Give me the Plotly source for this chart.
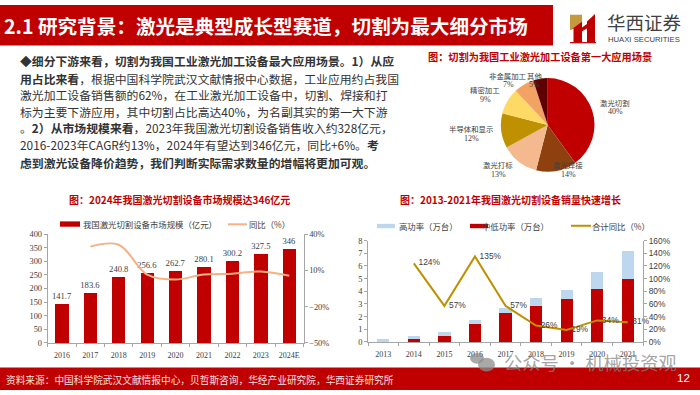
import plotly.graph_objects as go

RED = "#C00000"
CJK = "Noto Sans CJK SC"
SERIF = "Liberation Serif, Noto Sans CJK SC"
SANS = "Liberation Sans, Noto Sans CJK SC"

# ---- data ----
pie_labels = ["激光切割", "激光焊接", "激光打标", "半导体和显示", "精密加工", "非金属加工", "其他"]
pie_values = [40, 14, 13, 12, 9, 7, 5]
pie_colors = ["#C00000", "#8F400F", "#F4B98F", "#BF9000", "#FFD966", "#F2A263", "#600000"]

market_years = ["2016", "2017", "2018", "2019", "2020", "2021", "2022", "2023", "2024E"]
market_size = [141.7, 183.6, 240.8, 256.6, 262.7, 280.1, 300.2, 327.5, 346]
market_yoy = [None, 29.6, 31.2, 6.5, 2.4, 6.6, 7.2, 9.1, 5.6]

sales_years = ["2013", "2014", "2015", "2016", "2017", "2018", "2019", "2020", "2021"]
sales_low = [0.1, 0.3, 0.5, 1.4, 2.25, 2.85, 3.4, 4.2, 5.0]
sales_high = [0.1, 0.15, 0.25, 0.35, 0.45, 0.6, 0.7, 1.3, 2.2]
sales_yoy = [None, 124, 57, 135, 57, 26, 19, 34, 31]

body_lines = [
    "◆<b>细分下游来看，切割为我国工业激光加工设备最大应用场景。1）从应</b>",
    "<b>用占比来看</b>，根据中国科学院武汉文献情报中心数据，工业应用约占我国",
    "激光加工设备销售额的62%，在工业激光加工设备中，切割、焊接和打",
    "标为主要下游应用，其中切割占比高达40%，为名副其实的第一大下游",
    "。<b>2）从市场规模来看</b>，2023年我国激光切割设备销售收入约328亿元，",
    "2016-2023年CAGR约13%，2024年有望达到346亿元，同比+6%。<b>考</b>",
    "<b>虑到激光设备降价趋势，我们判断实际需求数量的增幅将更加可观。</b>",
]
body_y = [57, 75, 92, 109.5, 126, 143, 162]


def X(px):
    return px / 700


def Y(px):
    return 1 - px / 395


shapes = []
annots = []


def rect(x0, y0, x1, y1, color, layer="below"):
    shapes.append(dict(type="rect", xref="paper", yref="paper", x0=X(x0), x1=X(x1), y0=Y(y0), y1=Y(y1),
                       fillcolor=color, line_width=0, layer=layer))


def hline(x0, x1, y, color, width):
    shapes.append(dict(type="line", xref="paper", yref="paper", x0=X(x0), x1=X(x1), y0=Y(y), y1=Y(y),
                       line=dict(color=color, width=width), layer="above"))


def poly(points, color, layer="above"):
    path = "M" + " L".join(f"{X(a):.5f},{Y(b):.5f}" for a, b in points) + " Z"
    shapes.append(dict(type="path", xref="paper", yref="paper", path=path, fillcolor=color, line_width=0, layer=layer))


def text(x, y, s, size, color="#404040", family=CJK, anchor="center"):
    annots.append(dict(xref="paper", yref="paper", x=X(x), y=Y(y), text=s, showarrow=False, xanchor=anchor,
                       yanchor="middle", font=dict(size=size, color=color, family=family), align="left",
                       borderpad=0, borderwidth=0))


# page furniture
rect(0, 0, 553, 41.5, RED)
rect(0, 372, 700, 395, RED)
text(4, 21, "<b>2.1 研究背景：激光是典型成长型赛道，切割为最大细分市场</b>", 19.6, "white", anchor="left")
text(6, 385, "资料来源：中国科学院武汉文献情报中心，贝哲斯咨询，华经产业研究院，华西证券研究所", 9.7, "#F5E0E0", anchor="left")
text(683, 383, "12", 11.5, "white", SANS)

# logo
poly([(570, 10), (582, 10), (582, 17), (570, 26)], "#C49A3C")
poly([(570, 26), (582, 17), (582, 38), (573.5, 38), (573.5, 24)], RED)
poly([(595, 9.3), (595, 38), (587, 38), (587, 24), (582, 27), (582, 23), (587, 19.5), (587, 17)], RED)
poly([(570, 38), (596, 38), (596, 39.3), (570, 39.3)], RED)
text(644, 17.5, "华西证券", 18.5, "#404040", CJK)
text(644, 35, "HUAXI SECURITIES", 7.7, "#404040", SANS)

# body copy
for line, ly in zip(body_lines, body_y):
    text(20, ly, line, 11.85, "#333333", anchor="left")

# panel titles
text(179, 200, "<b>图：2024年我国激光切割设备市场规模达346亿元</b>", 10, RED)
text(510, 200, "<b>图：2013-2021年我国激光切割设备销量快速增长</b>", 10, RED)
text(540, 53, "<b>图：切割为我国工业激光加工设备第一大应用场景</b>", 10.2, RED)

# pie labels
pie_lx = [615, 568, 498, 471, 485, 508, 534]
pie_ly = [100, 164, 164, 127, 87, 72, 72]
for lab, val, lx, ly in zip(pie_labels, pie_values, pie_lx, pie_ly):
    text(lx, ly, lab, 7.4, "#404040")
    text(lx, ly + 9.5, f"{val}%", 8, "#404040", SERIF)

# manual wide-swatch legends
rect(60, 222, 80, 227.5, RED)
text(150, 225, "我国激光切割设备市场规模（亿元）", 8.4, anchor="center")
hline(228, 247, 225, "#F4B183", 2)
text(269, 225, "同比（%）", 8.4)
rect(377, 224.5, 395, 229, "#BDD7EE")
text(428, 226.5, "高功率（万台）", 8.4)
rect(470, 224.5, 488, 229, RED)
text(515, 226.5, "中低功率（万台）", 8.4)
hline(571, 591, 226.5, "#BF9000", 2)
text(621, 226.5, "合计同比（%）", 8.4)

# watermark
shapes.append(dict(type="circle", xref="paper", yref="paper", x0=X(470), x1=X(484), y0=Y(368), y1=Y(357),
                   fillcolor="rgba(140,140,140,0.75)", line_width=0))
shapes.append(dict(type="circle", xref="paper", yref="paper", x0=X(478), x1=X(495), y0=Y(376), y1=Y(362),
                   fillcolor="rgba(140,140,140,0.75)", line_width=0))
text(590, 366, "公众号 · 机械投资观", 18.3, "rgba(130,130,130,0.72)")

axis_line = "#A6A6A6"
fig = go.Figure()

# pie
fig.add_trace(go.Pie(labels=pie_labels, values=pie_values, sort=False, direction="clockwise", rotation=0,
                     marker=dict(colors=pie_colors, line=dict(width=0)), textinfo="none", showlegend=False,
                     hoverinfo="label+percent", domain=dict(x=[X(499.7), X(595.7)], y=[Y(171), Y(75)])))

# market chart
fig.add_trace(go.Bar(x=market_years, y=market_size, name="我国激光切割设备市场规模（亿元）", marker=dict(color=RED, line_width=0),
                     width=0.47, text=[f"{v:g}" for v in market_size], textposition="outside", cliponaxis=False,
                     constraintext="none", textangle=0,
                     textfont=dict(family=SERIF, size=8.6, color="#404040"), xaxis="x", yaxis="y", showlegend=False))
fig.add_trace(go.Scatter(x=market_years, y=market_yoy, name="同比（%）", mode="lines",
                         line=dict(color="#F4B183", width=2, shape="spline", smoothing=1), xaxis="x", yaxis="y2",
                         connectgaps=False, showlegend=False))

# sales chart
fig.add_trace(go.Bar(x=sales_years, y=sales_low, name="中低功率（万台）", marker=dict(color=RED, line_width=0), width=0.4,
                     xaxis="x2", yaxis="y3", showlegend=False))
fig.add_trace(go.Bar(x=sales_years, y=sales_high, name="高功率（万台）", marker=dict(color="#BDD7EE", line_width=0), width=0.4,
                     xaxis="x2", yaxis="y3", showlegend=False))
fig.add_trace(go.Scatter(x=sales_years, y=sales_yoy, name="合计同比（%）", mode="lines+text",
                         line=dict(color="#BF9000", width=2),
                         text=["" if v is None else f"\u00a0\u00a0{v}%" for v in sales_yoy],
                         textposition="middle right", cliponaxis=False,
                         textfont=dict(family=SANS, size=8.4, color="#404040"), xaxis="x2", yaxis="y4", showlegend=False))


def base_x(domain, anchor):
    return dict(domain=domain, anchor=anchor, type="category", showgrid=False, showline=True, linecolor=axis_line,
                linewidth=1, ticks="outside", ticklen=3, tickcolor=axis_line, tickson="boundaries", tickangle=0,
                ticklabelstandoff=4,
                tickfont=dict(family=SERIF, size=8, color="#404040"), zeroline=False)


def base_y(domain, rng, dtick, **kw):
    d = dict(domain=domain, range=rng, dtick=dtick, showgrid=False, showline=True, linecolor=axis_line, linewidth=1,
             ticks="outside", ticklen=3, tickcolor=axis_line, zeroline=False,
             tickfont=dict(family=SERIF, size=8.4, color="#404040"))
    d.update(kw)
    return d


fig.update_layout(
    width=700, height=395, margin=dict(l=0, r=0, t=0, b=0), paper_bgcolor="white", plot_bgcolor="rgba(0,0,0,0)",
    barmode="stack", showlegend=False, shapes=shapes, annotations=annots,
    xaxis=base_x([X(47.7), X(303.5)], "y"),
    yaxis=base_y([Y(346.7), Y(235)], [0, 400], 50, anchor="x"),
    yaxis2=base_y([Y(346.7), Y(235)], [-50, 40], 30, tick0=-50, overlaying="y", side="right", anchor="x", ticksuffix="%"),
    xaxis2=base_x([X(368), X(643)], "y3"),
    yaxis3=base_y([Y(345.7), Y(241.7)], [0, 8], 1, anchor="x2"),
    yaxis4=base_y([Y(345.7), Y(241.7)], [0, 160], 20, tick0=0, overlaying="y3", side="right", anchor="x2", ticksuffix="%",
                  tickfont=dict(family=SANS, size=8.4, color="#404040")),
)

fig.write_html("out.html", config=dict(displayModeBar=False),
               post_script="document.body.style.margin='0';document.body.style.overflow='hidden';")
